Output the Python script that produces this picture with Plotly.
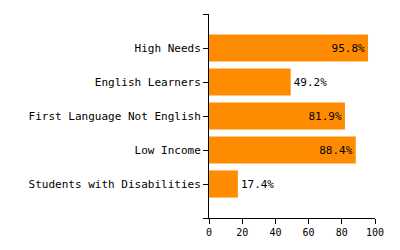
import plotly.graph_objects as go

categories = ["High Needs", "English Learners", "First Language Not English",
              "Low Income", "Students with Disabilities"]
values = [95.8, 49.2, 81.9, 88.4, 17.4]
x_ticks = [0, 20, 40, 60, 80, 100]

FONT = "DejaVu Sans Mono"
BAR = "#FF8C00"

positions = list(range(len(categories)))
labels = [f"{v:.1f}%" for v in values]
textpos = ["inside" if v > 60 else "outside" for v in values]

fig = go.Figure(go.Bar(
    x=values, y=positions, orientation="h",
    marker=dict(color=BAR, line=dict(width=0)),
    width=0.8,
    text=labels, textposition=textpos,
    insidetextanchor="end",
    textfont=dict(family=FONT, size=11, color="black"),
    cliponaxis=False,
    hoverinfo="skip",
))

fig.update_layout(
    width=400, height=250,
    margin=dict(l=209, r=25, t=14, b=29),
    paper_bgcolor="white", plot_bgcolor="white",
    showlegend=False,
    font=dict(family=FONT, size=11, color="black"),
    xaxis=dict(
        range=[0, 100], tickvals=x_ticks, ticks="outside", ticklen=5,
        tickcolor="black", showline=True, linecolor="black", linewidth=1,
        showgrid=False, zeroline=False,
        tickfont=dict(family=FONT, size=10, color="black"),
        fixedrange=True,
    ),
    yaxis=dict(
        range=[len(categories), -1],
        tickvals=[-1] + positions + [len(categories)],
        ticktext=[""] + categories + [""],
        ticks="outside", ticklen=5, tickcolor="black",
        showline=True, linecolor="black", linewidth=1,
        showgrid=False, zeroline=False,
        tickfont=dict(family=FONT, size=11, color="black"),
        fixedrange=True,
    ),
)

fig.write_html("out.html")
